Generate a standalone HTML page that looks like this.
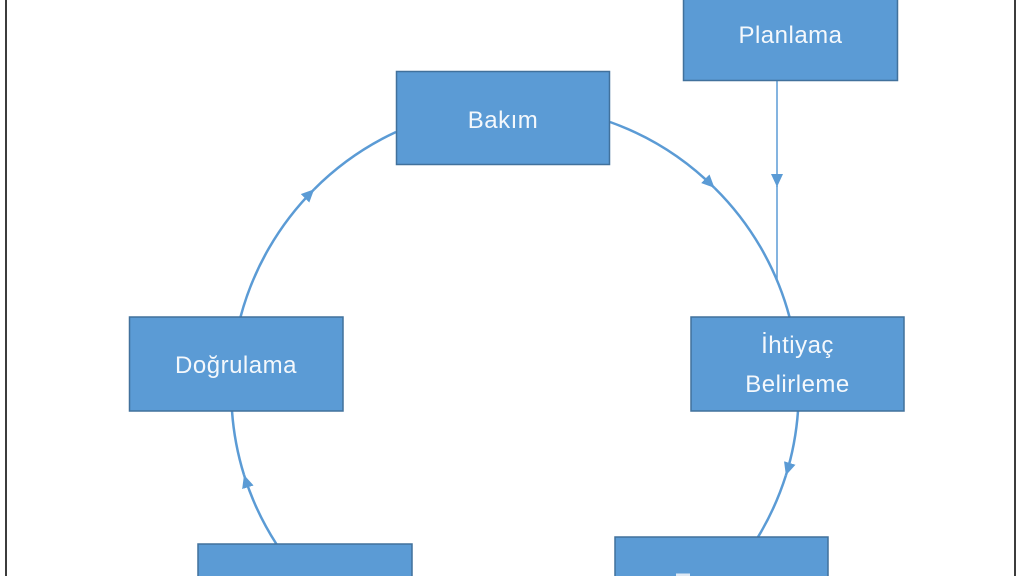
<!DOCTYPE html>
<html><head><meta charset="utf-8"><style>
html,body{margin:0;padding:0;background:#fff;width:1024px;height:576px;overflow:hidden;}
svg{display:block;overflow:hidden;}
text{font-family:"Liberation Sans",Arial,sans-serif;font-size:24px;fill:#f4f8fc;letter-spacing:0.5px;}
</style></head><body>
<svg width="1024" height="576" viewBox="0 0 1024 576" xmlns="http://www.w3.org/2000/svg">
<defs>
<marker id="ah" markerUnits="userSpaceOnUse" markerWidth="16" markerHeight="14" refX="13" refY="6" orient="auto">
<path d="M0,0 L13,6 L0,12 z" fill="#5B9BD5"/>
</marker>
</defs>
<rect x="0" y="0" width="1024" height="576" fill="#fff"/>
<line x1="6" y1="0" x2="6" y2="576" stroke="#3c3c3c" stroke-width="2"/>
<line x1="1015" y1="0" x2="1015" y2="576" stroke="#3c3c3c" stroke-width="2"/>

<g fill="none" stroke="#5B9BD5" stroke-width="2.5">
<path d="M610,122 A284,284 0 0 1 714.5,187.9" marker-end="url(#ah)"/>
<path d="M714.5,187.9 A284,284 0 0 1 789.5,317"/>
<path d="M798,411 A284,284 0 0 1 785.9,475.4" marker-end="url(#ah)"/>
<path d="M785.9,475.4 A284,284 0 0 1 758,537"/>
<path d="M276.4,544 A284,284 0 0 1 244,474.9" marker-end="url(#ah)"/>
<path d="M244,474.9 A284,284 0 0 1 232,411"/>
<path d="M240.5,317 A284,284 0 0 1 314.2,189.2" marker-end="url(#ah)"/>
<path d="M314.2,189.2 A284,284 0 0 1 396,132"/>
</g>
<g fill="none" stroke="#5B9BD5" stroke-width="1.5">
<path d="M777,80 L777,187" marker-end="url(#ah)"/>
<path d="M777,186 L777,281"/>
</g>

<g fill="#5B9BD5" stroke="#41719C" stroke-width="1.5">
<path d="M683.5,0 V80.5 H897.5 V0"/>
<rect x="396.5" y="71.5" width="213" height="93"/>
<rect x="691" y="317" width="213" height="94"/>
<rect x="129.5" y="317" width="213.5" height="94"/>
<path d="M198,576 V544 H412 V576"/>
<path d="M615,576 V537 H828 V576"/>
</g>
<rect x="676" y="573.5" width="14" height="2.5" fill="#dfe9f4"/>

<g text-anchor="middle">
<text x="790.5" y="43">Planlama</text>
<text x="503" y="128">Bakım</text>
<text x="797.5" y="353">İhtiyaç</text>
<text x="797.5" y="392">Belirleme</text>
<text x="236" y="373">Doğrulama</text>
</g>
</svg>
</body></html>
